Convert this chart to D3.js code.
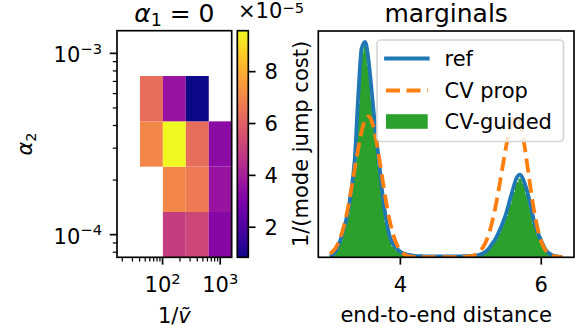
<!DOCTYPE html>
<html><head><meta charset="utf-8">
<script src="https://cdn.jsdelivr.net/npm/d3@7"></script>
<style>
body{margin:0;background:#fff}
svg{display:block;font-family:"DejaVu Sans",sans-serif}
</style></head><body>
<svg id="fig" width="584" height="334"></svg>
<script>
// ---- step-size scan: column / row centres of the grid
const invNu = [25.6, 64, 160, 400, 1000];                    // 1/ṽ
const alpha2 = [1e-4, 1.778e-4, 3.162e-4, 5.623e-4, 1e-3];    // α2
// 1/(mode jump cost) in units of 1e-5, rows follow alpha2, columns follow invNu (null = not run)
const invCost = [
  [null, null, 4.95, 5.21, 3.20],
  [null, null, 7.05, 6.70, 3.64],
  [null, 7.05, 9.58, 6.35, 3.37],
  [null, 6.35, 3.64, 0.84, null],
  [null, null, null, null, null]
];
const heatXTicks = [1e2, 1e3];
const heatYTicks = [1e-4, 1e-3];
const cbarTicks = [2, 4, 6, 8];

// ---- marginal densities of the end-to-end distance
const dist = [3.00,3.05,3.10,3.15,3.20,3.25,3.30,3.35,3.40,3.45,3.50,3.55,3.60,3.65,3.70,3.75,3.80,3.85,3.90,3.95,
  4.00,4.10,4.20,4.30,4.40,4.50,4.60,4.70,4.80,4.90,5.00,5.10,5.20,5.25,5.30,5.35,5.40,5.45,5.50,5.55,
  5.60,5.65,5.70,5.75,5.80,5.85,5.90,5.95,6.00,6.05,6.10,6.15,6.20,6.25,6.30];
const refDens = [0.005,0.015,0.04,0.08,0.135,0.20,0.30,0.44,0.73,0.96,0.99,0.90,0.74,0.57,0.43,0.28,0.17,0.095,0.06,0.04,
  0.025,0.012,0.007,0.005,0.004,0.004,0.004,0.004,0.004,0.005,0.006,0.010,0.023,0.038,0.061,0.084,0.118,0.156,0.20,0.258,
  0.315,0.365,0.38,0.353,0.304,0.236,0.163,0.114,0.076,0.042,0.021,0.011,0.006,0.003,0.001];
const propDens = [0.016,0.030,0.054,0.092,0.146,0.218,0.306,0.402,0.497,0.578,0.631,0.647,0.619,0.551,0.455,0.350,0.250,0.166,0.103,0.059,
  0.031,0.007,0.002,0.001,0.001,0.001,0.001,0.001,0.001,0.002,0.005,0.019,0.062,0.101,0.158,0.231,0.318,0.413,0.506,0.584,
  0.635,0.650,0.617,0.537,0.429,0.314,0.211,0.130,0.073,0.038,0.018,0.008,0.004,0.002,0.001];
const guidedHist = [0.004,0.012,0.035,0.075,0.13,0.195,0.29,0.43,0.71,0.94,0.97,0.88,0.73,0.56,0.42,0.27,0.16,0.088,0.05,0.032,
  0.02,0.009,0.005,0.003,0.002,0.002,0.002,0.002,0.002,0.003,0.004,0.008,0.02,0.034,0.056,0.08,0.112,0.15,0.19,0.245,
  0.30,0.345,0.362,0.34,0.29,0.225,0.155,0.105,0.068,0.038,0.018,0.009,0.004,0.002,0.001];
const distTicks = [4, 6];
const legendLabels = ["ref", "CV prop", "CV-guided"];

const C = {blue:"#1f77b4", orange:"#ff7f0e", green:"#2ca02c"};
const FS = 21, TFS = 25, SFS = 14.7;
const SPINE = 1.67, TICK = 7.3, MTICK = 4.2;

const svg = d3.select("#fig");

function supLabel(sel, base, exp) {
  sel.append("tspan").text(base);
  sel.append("tspan").attr("font-size", SFS).attr("dy", -8.5)
     .text(exp < 0 ? "\u2212" + (-exp) : String(exp));
}
const isDecade = t => Math.abs(Math.log10(t) - Math.round(Math.log10(t))) < 1e-9;

// ================= heat map =================
const hb = {l:117, r:231.7, t:30.7, b:257.3};
const colStep = invNu[1] / invNu[0], rowStep = alpha2[1] / alpha2[0];
const hx = d3.scaleLog()
  .domain([invNu[0] / Math.sqrt(colStep), invNu[invNu.length-1] * Math.sqrt(colStep)])
  .range([hb.l, hb.r]);
const hy = d3.scaleLog()
  .domain([alpha2[0] / Math.sqrt(rowStep), alpha2[alpha2.length-1] * Math.sqrt(rowStep)])
  .range([hb.b, hb.t]);

const vals = invCost.flat().filter(v => v != null);
const color = d3.scaleSequential(d3.interpolatePlasma).domain(d3.extent(vals));

const cells = [];
invCost.forEach((row, i) => row.forEach((v, j) => { if (v != null) cells.push({a:alpha2[i], n:invNu[j], v}); }));
svg.append("g").selectAll("rect").data(cells).join("rect")
  .attr("x", d => hx(d.n / Math.sqrt(colStep)))
  .attr("width", d => hx(d.n * Math.sqrt(colStep)) - hx(d.n / Math.sqrt(colStep)))
  .attr("y", d => hy(d.a * Math.sqrt(rowStep)))
  .attr("height", d => hy(d.a / Math.sqrt(rowStep)) - hy(d.a * Math.sqrt(rowStep)))
  .attr("fill", d => color(d.v));

// ticks
const hg = svg.append("g").attr("stroke", "#000");
hx.ticks().forEach(t => {
  const major = isDecade(t);
  hg.append("line").attr("x1", hx(t)).attr("x2", hx(t))
    .attr("y1", hb.b).attr("y2", hb.b + (major ? TICK : MTICK))
    .attr("stroke-width", major ? SPINE : 1.25);
});
hy.ticks().forEach(t => {
  const major = isDecade(t);
  hg.append("line").attr("y1", hy(t)).attr("y2", hy(t))
    .attr("x1", hb.l).attr("x2", hb.l - (major ? TICK : MTICK))
    .attr("stroke-width", major ? SPINE : 1.25);
});
heatXTicks.forEach(t => {
  const tx = svg.append("text").attr("x", hx(t)).attr("y", 292)
    .attr("text-anchor", "middle").attr("font-size", FS);
  supLabel(tx, "10", Math.round(Math.log10(t)));
});
heatYTicks.forEach(t => {
  const tx = svg.append("text").attr("x", 102).attr("y", hy(t) + 9)
    .attr("text-anchor", "end").attr("font-size", FS);
  supLabel(tx, "10", Math.round(Math.log10(t)));
});
svg.append("rect").attr("x", hb.l).attr("y", hb.t).attr("width", hb.r - hb.l).attr("height", hb.b - hb.t)
  .attr("fill", "none").attr("stroke", "#000").attr("stroke-width", SPINE);

// title and axis labels
const t1 = svg.append("text").attr("x", (hb.l + hb.r) / 2).attr("y", 21.7)
  .attr("text-anchor", "middle").attr("font-size", TFS);
t1.append("tspan").attr("font-style", "italic").text("α");
t1.append("tspan").attr("font-size", TFS * 0.7).attr("dy", 4.5).text("1");
t1.append("tspan").attr("dy", -4.5).text(" = 0");

const xl = svg.append("text").attr("x", (hb.l + hb.r) / 2).attr("y", 323)
  .attr("text-anchor", "middle").attr("font-size", FS);
xl.append("tspan").text("1/");
xl.append("tspan").attr("font-style", "italic").text("ṽ");

const yl = svg.append("text").attr("transform", `translate(32,${(hb.t + hb.b) / 2}) rotate(-90)`)
  .attr("text-anchor", "middle").attr("font-size", FS);
yl.append("tspan").attr("font-style", "italic").text("α");
yl.append("tspan").attr("font-size", SFS).attr("dy", 4).text("2");

// ================= colour bar =================
const cb = {l:237.3, r:248.3, t:30.7, b:257.3};
const cy = d3.scaleLinear().domain(color.domain()).range([cb.b, cb.t]);
const grad = svg.append("defs").append("linearGradient").attr("id", "cbgrad")
  .attr("x1", 0).attr("y1", 1).attr("x2", 0).attr("y2", 0);
d3.range(0, 1.0001, 0.05).forEach(s => grad.append("stop").attr("offset", s).attr("stop-color", d3.interpolatePlasma(s)));
svg.append("rect").attr("x", cb.l).attr("y", cb.t).attr("width", cb.r - cb.l).attr("height", cb.b - cb.t)
  .attr("fill", "url(#cbgrad)").attr("stroke", "#000").attr("stroke-width", SPINE);
cbarTicks.forEach(t => {
  svg.append("line").attr("x1", cb.r).attr("x2", cb.r + TICK).attr("y1", cy(t)).attr("y2", cy(t))
    .attr("stroke", "#000").attr("stroke-width", SPINE);
  svg.append("text").attr("x", 264.5).attr("y", cy(t) + 7.6).attr("font-size", FS).text(t);
});
const off = svg.append("text").attr("x", 238).attr("y", 18).attr("font-size", FS);
off.append("tspan").text("×10");
off.append("tspan").attr("font-size", SFS).attr("dy", -5.5).text("\u22125");

svg.append("text").attr("transform", `translate(308,${(cb.t + cb.b) / 2}) rotate(-90)`)
  .attr("text-anchor", "middle").attr("font-size", FS).text("1/(mode jump cost)");

// ================= marginals =================
const mb = {l:318.3, r:574, t:31, b:257.3};
const span = d3.max(dist) - d3.min(dist);
const mx = d3.scaleLinear().domain([d3.min(dist) - 0.05 * span, d3.max(dist) + 0.05 * span]).range([mb.l, mb.r]);
const my = d3.scaleLinear().domain([0, 1.05 * d3.max([...refDens, ...propDens, ...guidedHist])]).range([mb.b, mb.t]);

svg.select("defs").append("clipPath").attr("id", "mclip").append("rect")
  .attr("x", mb.l).attr("y", mb.t).attr("width", mb.r - mb.l).attr("height", mb.b - mb.t);
const pg = svg.append("g").attr("clip-path", "url(#mclip)");

pg.append("path").datum(guidedHist)
  .attr("d", d3.area().x((d, i) => mx(dist[i])).y0(my(0)).y1(d => my(d)).curve(d3.curveStep))
  .attr("fill", C.green);
const line = d3.line().x((d, i) => mx(dist[i])).y(d => my(d)).curve(d3.curveMonotoneX);
pg.append("path").datum(refDens).attr("d", line)
  .attr("fill", "none").attr("stroke", C.blue).attr("stroke-width", 3.8);
pg.append("path").datum(propDens).attr("d", line)
  .attr("fill", "none").attr("stroke", C.orange).attr("stroke-width", 3.8).attr("stroke-dasharray", "14,6.5");

distTicks.forEach(t => {
  svg.append("line").attr("x1", mx(t)).attr("x2", mx(t)).attr("y1", mb.b).attr("y2", mb.b + TICK)
    .attr("stroke", "#000").attr("stroke-width", SPINE);
  svg.append("text").attr("x", mx(t)).attr("y", 292).attr("text-anchor", "middle").attr("font-size", FS).text(t);
});
svg.append("rect").attr("x", mb.l).attr("y", mb.t).attr("width", mb.r - mb.l).attr("height", mb.b - mb.t)
  .attr("fill", "none").attr("stroke", "#000").attr("stroke-width", SPINE);

svg.append("text").attr("x", (mb.l + mb.r) / 2).attr("y", 21.7).attr("text-anchor", "middle")
  .attr("font-size", TFS).text("marginals");
svg.append("text").attr("x", (mb.l + mb.r) / 2).attr("y", 322).attr("text-anchor", "middle")
  .attr("font-size", FS).text("end-to-end distance");

// legend
const lg = svg.append("g");
lg.append("rect").attr("x", 377).attr("y", 40).attr("width", 186.5).attr("height", 101.5).attr("rx", 4)
  .attr("fill", "#fff").attr("fill-opacity", 0.8).attr("stroke", "#d6d6d6").attr("stroke-width", 1.7);
const rowsY = [58.5, 90.5, 121.5];
lg.append("line").attr("x1", 386).attr("x2", 427.7).attr("y1", rowsY[0]).attr("y2", rowsY[0])
  .attr("stroke", C.blue).attr("stroke-width", 3.8).attr("stroke-linecap", "square");
lg.append("line").attr("x1", 386).attr("x2", 427.7).attr("y1", rowsY[1]).attr("y2", rowsY[1])
  .attr("stroke", C.orange).attr("stroke-width", 3.8).attr("stroke-dasharray", "14,6.5");
lg.append("rect").attr("x", 386).attr("y", rowsY[2] - 7.3).attr("width", 41.7).attr("height", 14.6).attr("fill", C.green);
legendLabels.forEach((s, i) => lg.append("text").attr("x", 444.5).attr("y", rowsY[i] + 7.2)
  .attr("font-size", FS).text(s));
</script>
</body></html>
